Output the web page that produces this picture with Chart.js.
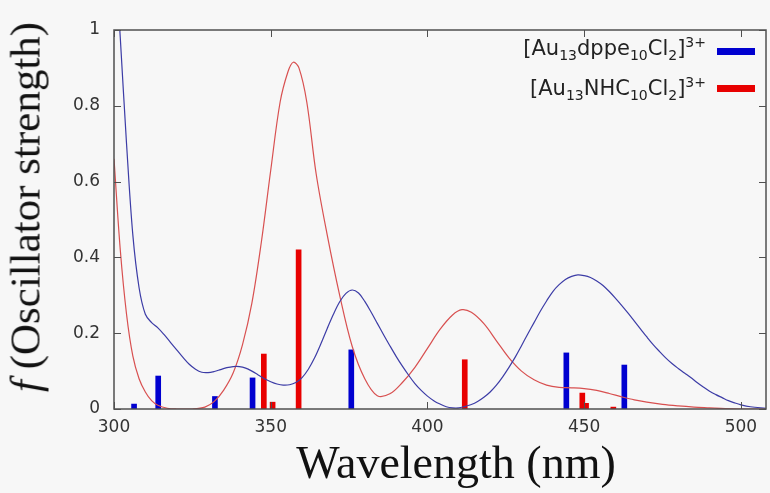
<!DOCTYPE html>
<html>
<head>
<meta charset="utf-8">
<script src="https://cdn.jsdelivr.net/npm/chart.js@4.4.1/dist/chart.umd.min.js"></script>
<style>
  html, body { margin: 0; padding: 0; background: #f7f7f7; }
  #wrap { position: relative; width: 770px; height: 493px; overflow: hidden; }
  #chart { position: absolute; left: 0; top: 0; }
  .legend { position: absolute; font-family: "DejaVu Sans", sans-serif; font-size: 21px; line-height: 24px; color: #222; text-align: right; white-space: nowrap; }
  .legend sub, .legend sup { font-size: 14px; line-height: 0; }
  .swatch { position: absolute; width: 38px; height: 7px; }
  #xtitle { position: absolute; left: 6px; width: 900px; top: 440px; line-height: 46px; text-align: center; font-family: "Liberation Serif", "Times New Roman", serif; font-size: 46px; color: #111; }
  #ytitle { position: absolute; left: 25px; top: 207px; transform: translate(-50%, -50%) rotate(-90deg); font-family: "Liberation Serif", "Times New Roman", serif; font-size: 43px; line-height: 43px; color: #111; white-space: nowrap; }
</style>
</head>
<body>
<div id="wrap">
  <canvas id="chart" width="770" height="493"></canvas>
  <div class="legend" style="right:64px; top:36px;">[Au<sub>13</sub>dppe<sub>10</sub>Cl<sub>2</sub>]<sup>3+</sup></div>
  <div class="swatch" style="left:717px; top:48px; background:#0000d0;"></div>
  <div class="legend" style="right:64px; top:76px;">[Au<sub>13</sub>NHC<sub>10</sub>Cl<sub>2</sub>]<sup>3+</sup></div>
  <div class="swatch" style="left:717px; top:85px; background:#e80000;"></div>
  <div id="xtitle">Wavelength (nm)</div>
  <div id="ytitle"><i>f</i> (Oscillator strength)</div>
</div>
<script>
// broadened spectra
const blueWl = [300, 302, 304, 306, 308, 310, 312, 314, 316, 318, 320, 322, 324, 326, 328, 330, 332, 334, 336, 338, 340, 342, 344, 346, 348, 350, 352, 354, 356, 358, 360, 362, 364, 366, 368, 370, 372, 374, 376, 378, 380, 382, 384, 386, 388, 390, 392, 394, 396, 398, 400, 402, 404, 406, 408, 410, 412, 414, 416, 418, 420, 422, 424, 426, 428, 430, 432, 434, 436, 438, 440, 442, 444, 446, 448, 450, 452, 454, 456, 458, 460, 462, 464, 466, 468, 470, 472, 474, 476, 478, 480, 482, 484, 486, 488, 490, 492, 494, 496, 498, 500, 503, 508];
const blueF = [1.25, 0.98, 0.7, 0.46, 0.32, 0.25, 0.228, 0.214, 0.196, 0.176, 0.156, 0.136, 0.118, 0.105, 0.097, 0.096, 0.099, 0.104, 0.109, 0.112, 0.112, 0.108, 0.1, 0.09, 0.08, 0.072, 0.066, 0.063, 0.064, 0.07, 0.083, 0.105, 0.135, 0.172, 0.212, 0.25, 0.283, 0.305, 0.314, 0.306, 0.284, 0.256, 0.226, 0.196, 0.167, 0.139, 0.113, 0.089, 0.067, 0.049, 0.034, 0.022, 0.013, 0.006, 0.003, 0.003, 0.007, 0.012, 0.02, 0.031, 0.045, 0.063, 0.085, 0.11, 0.137, 0.167, 0.198, 0.228, 0.258, 0.285, 0.31, 0.328, 0.342, 0.35, 0.354, 0.352, 0.347, 0.338, 0.326, 0.31, 0.292, 0.273, 0.253, 0.232, 0.211, 0.19, 0.17, 0.152, 0.135, 0.12, 0.107, 0.095, 0.083, 0.07, 0.058, 0.047, 0.038, 0.03, 0.022, 0.016, 0.011, 0.006, 0.002];

const redWl = [300, 302, 304, 306, 308, 310, 312, 314, 317, 320, 325, 329, 332, 335, 338, 341, 344, 347, 350, 353, 355.5, 357.2, 359, 361.5, 364.5, 368, 372, 376, 380, 384, 388, 392, 396, 400, 404, 408, 411, 414, 418, 422, 426, 430, 434, 438, 442, 446, 450, 454, 458, 462, 466, 470, 475, 480, 485, 490, 495, 500, 508];
const redF = [0.66, 0.42, 0.25, 0.14, 0.08, 0.045, 0.022, 0.01, 0.002, 0, 0, 0.005, 0.02, 0.05, 0.095, 0.17, 0.28, 0.44, 0.63, 0.81, 0.89, 0.915, 0.9, 0.81, 0.62, 0.46, 0.3, 0.165, 0.08, 0.035, 0.04, 0.07, 0.11, 0.16, 0.21, 0.248, 0.262, 0.255, 0.225, 0.18, 0.135, 0.1, 0.077, 0.063, 0.057, 0.056, 0.054, 0.049, 0.041, 0.032, 0.024, 0.018, 0.012, 0.008, 0.005, 0.003, 0.001, 0, 0];

// excitations (stick spectrum)
const blueBarWl = [307.2, 314.9, 333, 345, 376.5, 445.1, 463.6];
const blueBarF = [0.013, 0.087, 0.033, 0.082, 0.156, 0.148, 0.116];
const redBarWl = [347, 349.8, 358.1, 411.1, 448.6, 449.8, 458.5];
const redBarF = [0.145, 0.018, 0.42, 0.13, 0.042, 0.015, 0.005];

const xTicks = [300, 350, 400, 450, 500];

const pts = (xs, ys) => xs.map((x, i) => ({ x, y: ys[i] }));

// box frame with inward ticks on all four sides
const frameTicks = {
    id: 'frameTicks',
    afterDraw(chart) {
        const { ctx, chartArea: a, scales: { x, y } } = chart;
        ctx.save();
        ctx.strokeStyle = '#505050';
        ctx.lineWidth = 1.5;
        ctx.strokeRect(a.left, a.top, a.right - a.left, a.bottom - a.top);
        ctx.lineWidth = 1;
        ctx.beginPath();
        x.ticks.forEach(t => {
            const px = Math.round(x.getPixelForValue(t.value)) + 0.5;
            ctx.moveTo(px, a.bottom); ctx.lineTo(px, a.bottom - 7);
            ctx.moveTo(px, a.top); ctx.lineTo(px, a.top + 7);
        });
        y.ticks.forEach(t => {
            const py = Math.round(y.getPixelForValue(t.value)) + 0.5;
            ctx.moveTo(a.left, py); ctx.lineTo(a.left + 7, py);
            ctx.moveTo(a.right, py); ctx.lineTo(a.right - 7, py);
        });
        ctx.stroke();
        ctx.restore();
    }
};

new Chart(document.getElementById('chart'), {
    type: 'bar',
    data: {
        datasets: [
            { type: 'line', data: pts(blueWl, blueF), borderColor: '#3c3ca6', borderWidth: 1.2, pointRadius: 0, tension: 0.35, order: 1 },
            { type: 'line', data: pts(redWl, redF), borderColor: '#d85050', borderWidth: 1.2, pointRadius: 0, tension: 0.35, order: 1 },
            { type: 'bar', data: pts(blueBarWl, blueBarF), backgroundColor: '#0000d0', barThickness: 5, order: 2 },
            { type: 'bar', data: pts(redBarWl, redBarF), backgroundColor: '#e80000', barThickness: 5, order: 2 }
        ]
    },
    options: {
        responsive: false,
        animation: false,
        layout: { padding: { left: 0, top: 30, right: 4, bottom: 0 } },
        plugins: { legend: { display: false }, tooltip: { enabled: false } },
        scales: {
            x: {
                type: 'linear', min: 300, max: 508, offset: false,
                grid: { display: false }, border: { display: false },
                afterBuildTicks: s => { s.ticks = xTicks.map(v => ({ value: v })); },
                afterFit: s => { s.height = 84; },
                ticks: { padding: 0, color: '#333', font: { family: 'DejaVu Sans', size: 17 } }
            },
            y: {
                min: 0, max: 1,
                grid: { display: false }, border: { display: false },
                afterFit: s => { s.width = 114; },
                ticks: {
                    stepSize: 0.2, padding: 6, color: '#333', font: { family: 'DejaVu Sans', size: 17 },
                    callback: v => (v === 0 || v === 1) ? String(v) : v.toFixed(1)
                }
            }
        }
    },
    plugins: [frameTicks]
});
</script>
</body>
</html>
